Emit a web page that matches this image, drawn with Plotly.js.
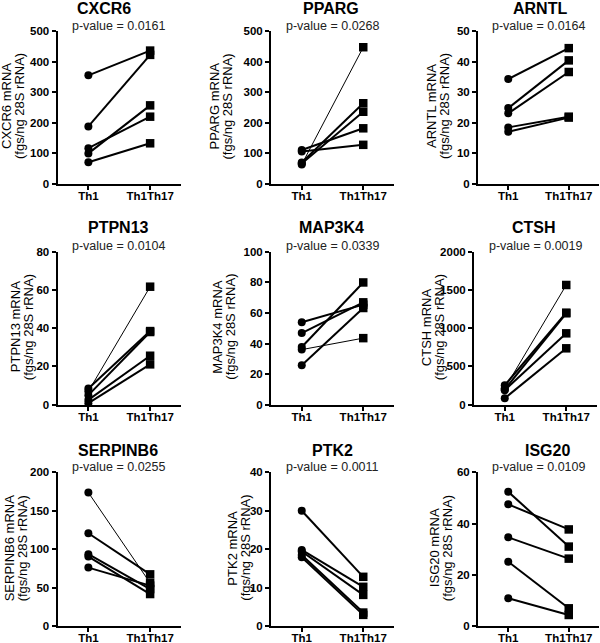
<!DOCTYPE html>
<html><head><meta charset="utf-8">
<script src="https://cdn.plot.ly/plotly-3.0.1.min.js"></script>
<style>html,body{margin:0;padding:0;background:#fff}#chart{width:600px;height:643px}</style>
</head><body><div id="chart"></div>
<script>
// ---- data ----
const genes = ['CXCR6','PPARG','ARNTL','PTPN13','MAP3K4','CTSH','SERPINB6','PTK2','ISG20'];
const pValues = ['0.0161','0.0268','0.0164','0.0104','0.0339','0.0019','0.0255','0.0011','0.0109'];
const groups = ['Th1','Th1Th17'];
const yMax = [500,500,50,80,100,2000,200,40,60];
const yStep = [100,100,10,20,20,500,50,10,20];

const cxcr6Th1 = [355,188,117,100,71];
const cxcr6Th17 = [436,422,220,257,133];
const ppargTh1 = [111,106,70,67,64];
const ppargTh17 = [182,128,264,236,447];
const arntlTh1 = [34.3,24.8,23.1,18.5,17.1];
const arntlTh17 = [44.4,40.4,36.6,22.0,21.7];
const ptpn13Th1 = [8.5,7,5,2.5,0.8];
const ptpn13Th17 = [38.5,61.7,38,25.6,21.1];
const map3k4Th1 = [53.9,46.8,37.7,36,25.8];
const map3k4Th17 = [65.4,66.9,79.9,43.5,63.2];
const ctshTh1 = [255,214,200,190,84];
const ctshTh17 = [1203,1565,1195,933,737];
const serpinb6Th1 = [173.6,120.7,93.4,90.3,76];
const serpinb6Th17 = [56,67.2,48,41.6,52.5];
const ptk2Th1 = [30,19.8,19.4,18.5,17.9];
const ptk2Th17 = [12.8,10.2,8.1,3.5,2.9];
const isg20Th1 = [52.4,47.5,34.6,25.1,10.8];
const isg20Th17 = [31,37.7,26.3,6.9,4.3];

const th1Sets = [cxcr6Th1,ppargTh1,arntlTh1,ptpn13Th1,map3k4Th1,ctshTh1,serpinb6Th1,ptk2Th1,isg20Th1];
const th17Sets = [cxcr6Th17,ppargTh17,arntlTh17,ptpn13Th17,map3k4Th17,ctshTh17,serpinb6Th17,ptk2Th17,isg20Th17];

// ---- style / layout (pixels) ----
const thinLine = [-1,4,-1,1,3,1,0,-1,-1];
const W = 600, H = 643;
const panelLeft = [57.5,271,478,57.5,271,474,57.5,271,478];
const panelRight = [181,394,599,181,394,597,181,394,599];
const rowPx = [[31,184],[251.7,404.7],[472.3,626]];
const titleX = [104,331,540,118,331,534,118,332,547];
const titleY = [9,228,450];
const pvalY = [26,246,466.5];
const axTitleX = [13,220.5,438,21.5,224,432.5,15.7,239,440.5];

const px = v => v / W;
const py = v => 1 - v / H;
const FONT = 'Liberation Sans, Arial, sans-serif';

const traces = [];
const layout = {
  width: W, height: H,
  margin: {l:0,r:0,t:0,b:0},
  paper_bgcolor: '#fff', plot_bgcolor: '#fff',
  showlegend: false,
  annotations: []
};

const tickFont = {family: FONT, size: 11.5, color: '#000', weight: 'bold'};

genes.forEach((g, i) => {
  const r = Math.floor(i / 3);
  const sfx = i === 0 ? '' : String(i + 1);
  const xa = 'x' + sfx, ya = 'y' + sfx;
  th1Sets[i].forEach((v, k) => {
    traces.push({
      x: [0, 1], y: [v, th17Sets[i][k]],
      xaxis: xa, yaxis: ya,
      type: 'scatter', mode: 'lines+markers', cliponaxis: false,
      opacity: 1,
      line: {color: '#000', width: thinLine[i] === k ? 1 : 2},
      marker: {symbol: ['circle','square'], size: [8,8.5], color: '#000',
               opacity: 1, line: {width: 0, color: '#000'}},
      hoverinfo: 'skip'
    });
  });
  layout['xaxis' + sfx] = {
    domain: [px(panelLeft[i]), px(panelRight[i])],
    anchor: ya, range: [-0.5, 1.5],
    tickvals: [0, 1], ticktext: groups,
    showline: true, linecolor: '#000', linewidth: 2,
    ticks: 'outside', ticklen: 4, tickwidth: 2, tickcolor: '#000',
    ticklabelstandoff: -4,
    tickfont: tickFont,
    showgrid: false, zeroline: false, fixedrange: true
  };
  layout['yaxis' + sfx] = {
    domain: [py(rowPx[r][1]), py(rowPx[r][0])],
    anchor: xa, range: [0, yMax[i]], dtick: yStep[i], tick0: 0,
    showline: true, linecolor: '#000', linewidth: 2,
    ticks: 'outside', ticklen: 4, tickwidth: 2, tickcolor: '#000',
    tickfont: tickFont,
    showgrid: false, zeroline: false, fixedrange: true
  };
  layout.annotations.push({
    text: g, xref: 'paper', yref: 'paper', x: px(titleX[i]), y: py(titleY[r]),
    xanchor: 'center', yanchor: 'middle', showarrow: false,
    font: {family: FONT, size: 16, color: '#000', weight: 'bold'}
  });
  layout.annotations.push({
    text: 'p-value = ' + pValues[i], xref: 'paper', yref: 'paper',
    x: px((panelLeft[i] + panelRight[i]) / 2), y: py(pvalY[r]),
    xanchor: 'center', yanchor: 'middle', showarrow: false,
    font: {family: FONT, size: 12.5, color: '#222'}
  });
  const midY = (rowPx[r][0] + rowPx[r][1]) / 2 - 1;
  layout.annotations.push({
    text: g + ' mRNA', xref: 'paper', yref: 'paper',
    x: px(axTitleX[i] - 6.5), y: py(midY), textangle: -90,
    xanchor: 'center', yanchor: 'middle', showarrow: false,
    font: {family: FONT, size: 13, color: '#000'}
  });
  layout.annotations.push({
    text: '(fgs/ng 28S rRNA)', xref: 'paper', yref: 'paper',
    x: px(axTitleX[i] + 6.5), y: py(midY), textangle: -90,
    xanchor: 'center', yanchor: 'middle', showarrow: false,
    font: {family: FONT, size: 13, color: '#000'}
  });
});

Plotly.newPlot('chart', traces, layout, {displayModeBar: false, staticPlot: true});
</script></body></html>
